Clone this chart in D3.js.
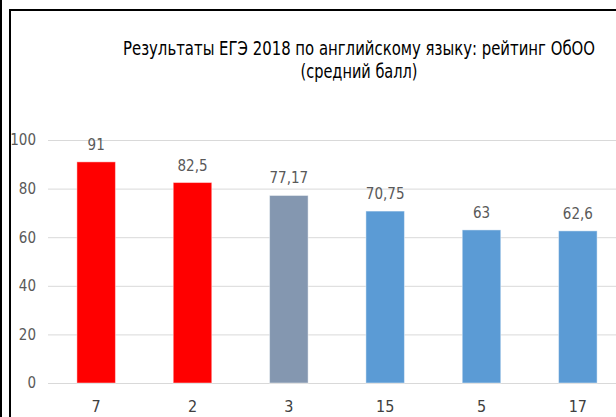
<!DOCTYPE html>
<html>
<head>
<meta charset="utf-8">
<script src="https://cdn.jsdelivr.net/npm/d3@7"></script>
<style>
  body { margin: 0; background: #fff; }
  svg text { font-family: "DejaVu Sans Condensed", "DejaVu Sans", sans-serif; font-stretch: condensed; }
</style>
</head>
<body>
<div id="chart"></div>
<script>
// data
var schools = ['7', '2', '3', '15', '5', '17'];
var scores = [91, 82.5, 77.17, 70.75, 63, 62.6];
var barColors = ['#ff0000', '#ff0000', '#8497b0', '#5b9bd5', '#5b9bd5', '#5b9bd5'];
var yTicks = [0, 20, 40, 60, 80, 100];

var svgWidth = 616;
var svgHeight = 417;

var svg = d3.select('#chart')
    .append('svg')
    .attr('width', svgWidth)
    .attr('height', svgHeight);

// frame lines
svg.append('rect').attr('x', 0).attr('y', 0).attr('width', 2).attr('height', svgHeight).attr('fill', '#000');
svg.append('rect').attr('x', 9).attr('y', 9).attr('width', 2).attr('height', svgHeight).attr('fill', '#000');
svg.append('rect').attr('x', 9).attr('y', 9).attr('width', svgWidth).attr('height', 2).attr('fill', '#000');

// scales
var x = d3.scaleBand()
    .domain(schools)
    .range([48, 626])
    .paddingInner(0.6)
    .paddingOuter(0.3);

var y = d3.scaleLinear()
    .domain([0, 100])
    .range([383, 140]);

// gridlines
svg.append('g')
    .selectAll('line')
    .data(yTicks)
    .enter()
    .append('line')
        .attr('x1', 48)
        .attr('x2', svgWidth)
        .attr('y1', d => y(d) + 0.5)
        .attr('y2', d => y(d) + 0.5)
        .attr('stroke', '#d9d9d9')
        .attr('stroke-width', 1);

// y axis labels
var leftAxis = d3.axisLeft(y).tickValues(yTicks).tickSize(0).tickPadding(0);
var yAxis = svg.append('g')
    .attr('transform', 'translate(36,0)')
    .call(leftAxis);
yAxis.select('.domain').remove();
yAxis.selectAll('text')
    .attr('fill', '#595959')
    .style('font-size', '15px');

// bars
svg.append('g')
    .selectAll('rect')
    .data(scores)
    .enter()
    .append('rect')
        .attr('x', (d, i) => x(schools[i]))
        .attr('y', d => y(d))
        .attr('width', x.bandwidth())
        .attr('height', d => y(0) - y(d))
        .attr('fill', (d, i) => barColors[i])
        .attr('stroke', 'rgba(255,255,255,0.45)')
        .attr('stroke-width', 1);

// value labels
svg.append('g')
    .selectAll('text')
    .data(scores)
    .enter()
    .append('text')
        .attr('x', (d, i) => x(schools[i]) + x.bandwidth() / 2)
        .attr('y', d => y(d) - 12)
        .attr('text-anchor', 'middle')
        .attr('fill', '#595959')
        .style('font-size', '15px')
        .text(d => String(d).replace('.', ','));

// x axis labels
var bottomAxis = d3.axisBottom(x).tickSize(0).tickPadding(0);
var xAxis = svg.append('g')
    .attr('transform', 'translate(0,401)')
    .call(bottomAxis);
xAxis.select('.domain').remove();
xAxis.selectAll('text')
    .attr('fill', '#404040')
    .style('font-size', '16px');

// title, two lines
svg.append('text')
    .attr('x', 359).attr('y', 55)
    .attr('text-anchor', 'middle')
    .attr('textLength', 472)
    .attr('lengthAdjust', 'spacingAndGlyphs')
    .attr('fill', '#000')
    .style('font-size', '20px')
    .text('Результаты ЕГЭ 2018 по английскому языку: рейтинг ОбОО');
svg.append('text')
    .attr('x', 359).attr('y', 78)
    .attr('text-anchor', 'middle')
    .attr('textLength', 117)
    .attr('lengthAdjust', 'spacingAndGlyphs')
    .attr('fill', '#000')
    .style('font-size', '20px')
    .text('(средний балл)');
</script>
</body>
</html>
